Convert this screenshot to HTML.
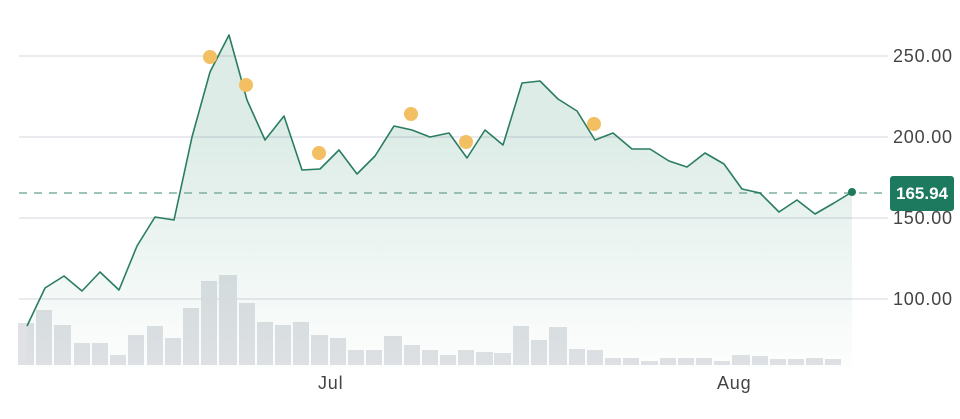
<!DOCTYPE html>
<html><head><style>body{margin:0;background:#fff}svg{display:block}</style></head><body>
<svg width="960" height="419" xmlns="http://www.w3.org/2000/svg" font-family="Liberation Sans, sans-serif">
<defs><linearGradient id="g" x1="0" y1="0" x2="0" y2="1"><stop offset="0.3" stop-color="#2e8a6a" stop-opacity="0.16"/><stop offset="1" stop-color="#2e8a6a" stop-opacity="0.01"/></linearGradient></defs>
<g stroke="#e3e3ea" stroke-width="1.5">
<line x1="19" y1="56" x2="888" y2="56"/><line x1="19" y1="137" x2="888" y2="137"/><line x1="19" y1="218" x2="888" y2="218"/><line x1="19" y1="299" x2="888" y2="299"/></g>
<g fill="#dfe1e5">
<rect x="18" y="323" width="16" height="42"/><rect x="36" y="310" width="16" height="55"/><rect x="54" y="325" width="17" height="40"/><rect x="74" y="343" width="16" height="22"/><rect x="92" y="343" width="16" height="22"/><rect x="110" y="355" width="16" height="10"/><rect x="128" y="335" width="16" height="30"/><rect x="147" y="326" width="16" height="39"/><rect x="165" y="338" width="16" height="27"/><rect x="183" y="308" width="16" height="57"/><rect x="201" y="281" width="16" height="84"/><rect x="219" y="275" width="18" height="90"/><rect x="239" y="303" width="16" height="62"/><rect x="257" y="322" width="16" height="43"/><rect x="275" y="325" width="16" height="40"/><rect x="293" y="322" width="16" height="43"/><rect x="311" y="335" width="17" height="30"/><rect x="330" y="338" width="16" height="27"/><rect x="348" y="350" width="16" height="15"/><rect x="366" y="350" width="16" height="15"/><rect x="384" y="336" width="18" height="29"/><rect x="404" y="345" width="16" height="20"/><rect x="422" y="350" width="16" height="15"/><rect x="440" y="355" width="16" height="10"/><rect x="458" y="350" width="16" height="15"/><rect x="476" y="352" width="17" height="13"/><rect x="494" y="353" width="17" height="12"/><rect x="513" y="326" width="16" height="39"/><rect x="531" y="340" width="16" height="25"/><rect x="549" y="327" width="18" height="38"/><rect x="569" y="349" width="16" height="16"/><rect x="587" y="350" width="16" height="15"/><rect x="605" y="358" width="16" height="7"/><rect x="623" y="358" width="16" height="7"/><rect x="641" y="361" width="17" height="4"/><rect x="660" y="358" width="16" height="7"/><rect x="678" y="358" width="16" height="7"/><rect x="696" y="358" width="16" height="7"/><rect x="714" y="361" width="16" height="4"/><rect x="732" y="355" width="18" height="10"/><rect x="752" y="356" width="16" height="9"/><rect x="770" y="359" width="16" height="6"/><rect x="788" y="359" width="16" height="6"/><rect x="806" y="358" width="17" height="7"/><rect x="825" y="359" width="16" height="6"/></g>
<path fill="url(#g)" d="M27,326 L45,288 64,276 82,291 100,272 119,290 137,246 155,217 174,220 192,137 210,72 229,35 247,100 265,140 284,116 302,170 320,169 339,150 357,174 375,156 394,126 412,130 430,137 449,133 467,158 485,130 503,145 522,83 540,81 558,99 577,111 595,140 613,133 632,149 650,149 669,161 687,167 705,153 724,164 742,189 760,193 779,212 797,200 815,214 834,203 852,192 L852,368 L27,368 Z"/>
<line x1="19" y1="193" x2="888" y2="193" stroke="#7fb09c" stroke-width="1.5" stroke-dasharray="8,7"/>
<polyline fill="none" stroke="#2a7d62" stroke-width="1.6" stroke-linejoin="round" points="27,326 45,288 64,276 82,291 100,272 119,290 137,246 155,217 174,220 192,137 210,72 229,35 247,100 265,140 284,116 302,170 320,169 339,150 357,174 375,156 394,126 412,130 430,137 449,133 467,158 485,130 503,145 522,83 540,81 558,99 577,111 595,140 613,133 632,149 650,149 669,161 687,167 705,153 724,164 742,189 760,193 779,212 797,200 815,214 834,203 852,192"/>
<circle cx="852" cy="192" r="4" fill="#1e7a5e"/>
<g fill="#f2c063"><circle cx="210" cy="57" r="7"/><circle cx="246" cy="85" r="7"/><circle cx="319" cy="153" r="7"/><circle cx="411" cy="114" r="7"/><circle cx="466" cy="142" r="7"/><circle cx="594" cy="124" r="7"/></g>
<g fill="#444" font-size="18" letter-spacing="0.8"><text x="893" y="62">250.00</text><text x="893" y="143">200.00</text><text x="893" y="224">150.00</text><text x="893" y="305">100.00</text>
<text x="318" y="389">Jul</text><text x="717" y="389">Aug</text></g>
<rect x="890" y="176" width="64" height="35" rx="3" fill="#1e7a5e"/>
<text x="922" y="199" fill="#fff" font-size="17" font-weight="bold" text-anchor="middle">165.94</text>
</svg></body></html>
